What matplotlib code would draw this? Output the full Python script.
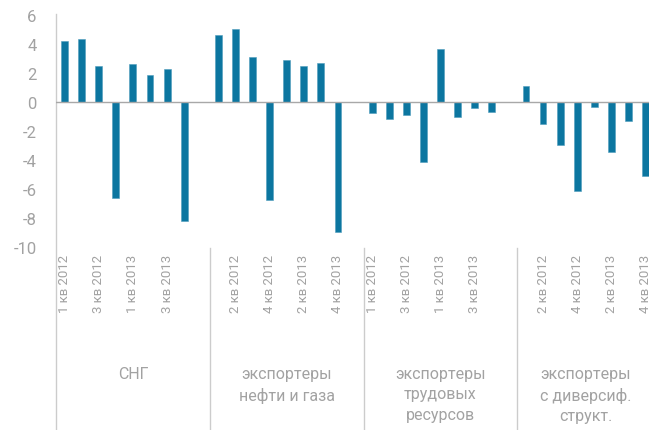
import matplotlib.pyplot as plt
import numpy as np
from matplotlib.transforms import blended_transform_factory

"""Data"""

quarters = ['1 кв 2012', '2 кв 2012', '3 кв 2012', '4 кв 2012',
            '1 кв 2013', '2 кв 2013', '3 кв 2013', '4 кв 2013']
groups = ['СНГ', 'экспортеры\nнефти и газа', 'экспортеры\nтрудовых\nресурсов',
          'экспортеры\nс диверсиф.\nструкт.']

sng = [4.21, 4.34, 2.51, -6.64, 2.62, 1.89, 2.25, -8.23]
oil_gas = [4.62, 5.01, 3.13, -6.76, 2.90, 2.51, 2.71, -8.97]
labour = [-0.76, -1.20, -0.90, -4.16, 3.68, -1.03, -0.41, -0.69]
diversified = [1.10, -1.52, -2.99, -6.14, -0.32, -3.45, -1.29, -5.10]

series = [sng, oil_gas, labour, diversified]

"""Layout: 8 quarters per group + one empty slot between groups"""

slots = len(quarters) + 1
x_pos = []
values = []
labels = []
for g, vals in enumerate(series):
    for q, v in enumerate(vals):
        x_pos.append(g * slots + q)
        values.append(v)
    n = len(quarters) if g == len(series) - 1 else slots
    labels += quarters + ([''] if n == slots else [])

n_slots = len(labels)
bar_color = '#0c76a0'
grey = '#a2a2a2'
font = 'Roboto'

fig = plt.figure(figsize=(6.49, 4.31), dpi=100)
ax = fig.add_axes([56 / 649, (431 - 248) / 431, n_slots * 17.09 / 649, 232 / 431])

ax.bar(x_pos, values, width=0.4, color=bar_color, edgecolor='#4f9dbd', linewidth=0.4, zorder=3)
ax.axhline(0, color='#a8a8a8', linewidth=1.0, zorder=4)

ax.set_xlim(-0.5, n_slots - 0.5)
ax.set_ylim(-10, 6)
ax.set_yticks(np.arange(-10, 7, 2))
ax.set_yticklabels([str(t) for t in range(-10, 7, 2)], fontsize=12, color=grey, family=font)
ax.tick_params(axis='y', length=0, pad=14)

tick_idx = list(range(0, n_slots, 2))
ax.set_xticks(tick_idx)
ax.set_xticklabels([labels[i] for i in tick_idx], rotation=90, fontsize=9.5,
                   color=grey, family=font)
ax.tick_params(axis='x', length=0, pad=5)

for s in ['top', 'right', 'bottom', 'left']:
    ax.spines[s].set_visible(False)

# left axis line and group separators running down to the bottom
trans = blended_transform_factory(ax.transData, fig.transFigure)
top_y = (431 - 15) / 431
sep_y = (431 - 249) / 431
ax.plot([-0.5, -0.5], [0, top_y], transform=trans, color='#cccccc', lw=1.0, clip_on=False)
for g in range(1, len(series)):
    xs = g * slots - 0.5
    ax.plot([xs, xs], [0, sep_y], transform=trans, color='#cccccc', lw=1.0, clip_on=False)

# group names
for g, name in enumerate(groups):
    lo = g * slots - 0.5
    hi = min((g + 1) * slots - 0.5, n_slots - 0.5)
    ax.text((lo + hi) / 2, (431 - 367) / 431, name, transform=trans, ha='center', va='top',
            fontsize=11.5, color=grey, family=font, linespacing=1.45, clip_on=False)

fig.savefig('out.png', dpi=100)
